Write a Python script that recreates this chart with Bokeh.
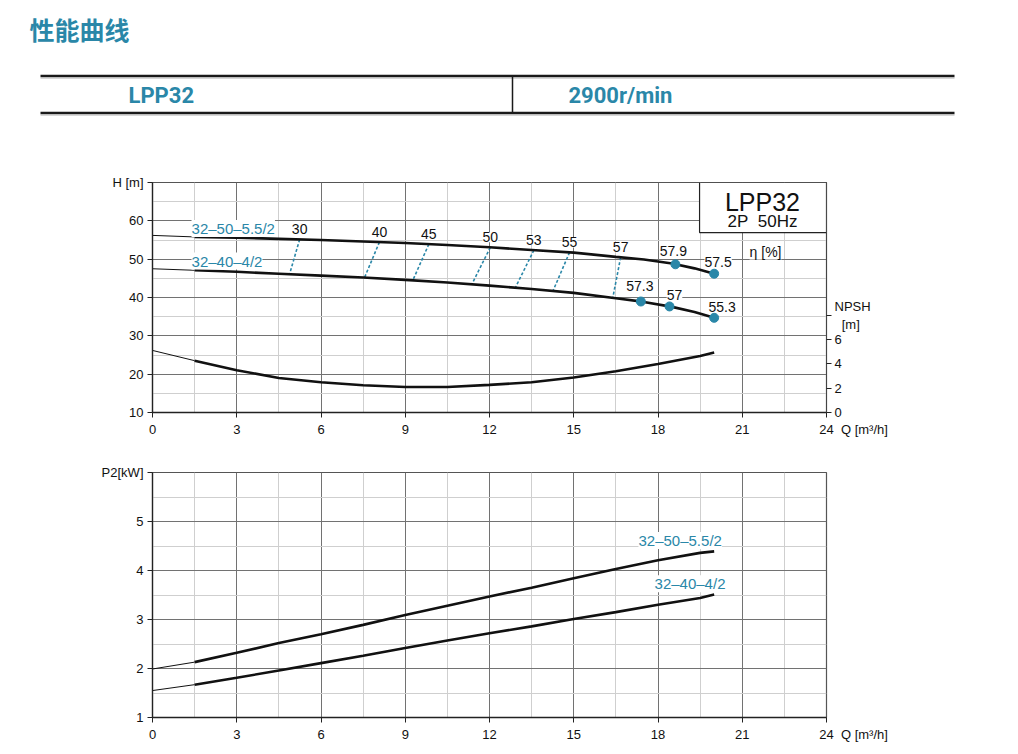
import numpy as np
from bokeh.plotting import figure
from bokeh.models import (Range1d, LinearAxis, FixedTicker, ColumnDataSource,
                          LabelSet, Label, BoxAnnotation)
from bokeh.layouts import column
from bokeh.embed import file_html
from bokeh.resources import INLINE
from bokeh.core.properties import value

# ---------------- data ----------------
title_text = "性能曲线"
model_text = "LPP32"
speed_text = "2900r/min"
box_title = "LPP32"
box_sub = "2P\u00a0\u00a050Hz"
series_names = ["32–50–5.5/2", "32–40–4/2"]
q_unit = "Q [m³/h]"
npsh_unit = "NPSH\n\u00a0\u00a0[m]"

q_h = [0, 1.5, 3, 4.5, 6, 7.5, 9, 10.5, 12, 13.5, 15, 16.5, 17.5, 18.5, 19.3, 20]
h_50 = [56.2, 55.8, 55.6, 55.3, 55.0, 54.6, 54.2, 53.7, 53.1, 52.4, 51.7, 50.6, 49.9, 48.85, 47.6, 46.2]
h_40 = [47.5, 47.1, 46.7, 46.2, 45.7, 45.2, 44.6, 43.9, 43.1, 42.2, 41.2, 39.8, 38.85, 37.55, 36.2, 34.7]

q_npsh = [0, 1.5, 3, 4.5, 6, 7.5, 9, 10.5, 12, 13.5, 15, 16.5, 18, 19.5, 20]
npsh = [5.1, 4.26, 3.47, 2.84, 2.48, 2.24, 2.1, 2.1, 2.27, 2.48, 2.87, 3.39, 3.99, 4.64, 4.94]

q_p2 = [0, 1.5, 3, 4.5, 6, 7.5, 9, 10.5, 12, 13.5, 15, 16.5, 18, 19.5, 20]
p2_50 = [1.99, 2.13, 2.32, 2.52, 2.70, 2.89, 3.09, 3.28, 3.47, 3.65, 3.84, 4.03, 4.21, 4.36, 4.39]
p2_40 = [1.55, 1.67, 1.81, 1.96, 2.11, 2.26, 2.42, 2.57, 2.72, 2.86, 3.01, 3.15, 3.30, 3.44, 3.51]

eff_labels = ["30", "40", "45", "50", "53", "55", "57"]
eff_q_top = [5.24, 8.08, 9.84, 12.03, 13.58, 14.85, 16.67]
eff_q_bot = [4.88, 7.55, 9.27, 11.37, 12.92, 14.26, 16.39]

dot_q_50 = [18.62, 20.0]
dot_eff_50 = ["57.9", "57.5"]
dot_q_40 = [17.39, 18.41, 20.0]
dot_eff_40 = ["57.3", "57", "55.3"]

q_ticks = [0, 3, 6, 9, 12, 15, 18, 21, 24]
q_minor = [1.5, 4.5, 7.5, 10.5, 13.5, 16.5, 19.5, 22.5]
h_ticks = [10, 20, 30, 40, 50, 60, 70]
h_minor = [15, 25, 35, 45, 55, 65]
npsh_ticks = [0, 2, 4, 6, 8]
p2_ticks = [1, 2, 3, 4, 5, 6]
p2_minor = [1.5, 2.5, 3.5, 4.5, 5.5]

# ---------------- style ----------------
TEAL = "#2a87a8"
FONT = "Liberation Sans"
MAJOR = "#727272"
MINOR = "#cfcfcf"
THIN, THICK = 1.0, 2.6
Q_START = 1.5  # curves are thin before this flow
W = 1010
BL, FW = 152, 674
BR = W - BL - FW
NB = "\u00a0"
# last x tick carries the axis unit to its right (padded so "24" stays centred on its tick)
q_last_label = NB * 15 + "24" + NB * 2 + q_unit


def style_axes(p, yticks, yminor, yover):
    p.xaxis.ticker = FixedTicker(ticks=q_ticks, minor_ticks=q_minor)
    p.yaxis.ticker = FixedTicker(ticks=yticks, minor_ticks=yminor)
    p.yaxis.major_label_overrides = yover
    p.xaxis.major_label_overrides = {24: q_last_label}
    p.xgrid.ticker = FixedTicker(ticks=q_ticks, minor_ticks=q_minor)
    p.ygrid.ticker = FixedTicker(ticks=yticks, minor_ticks=yminor)
    for g in (p.xgrid, p.ygrid):
        g.grid_line_color = MAJOR
        g.grid_line_width = 1
        g.minor_grid_line_color = MINOR
        g.minor_grid_line_width = 1
    for ax in (p.xaxis, p.yaxis):
        ax.axis_line_color = "#222222"
        ax.axis_line_width = 1.3
        ax.major_tick_line_color = "#222222"
        ax.major_tick_out = 5
        ax.major_tick_in = 0
        ax.minor_tick_line_color = None
        ax.major_label_text_font = FONT
        ax.major_label_text_font_size = "13px"
        ax.major_label_text_color = "#111111"
        ax.major_label_standoff = 4
    p.outline_line_color = "#555555"
    p.outline_line_width = 1.2


def split_curve(p, xs, ys, **kw):
    xs = np.asarray(xs, float)
    ys = np.asarray(ys, float)
    thin = xs <= Q_START
    thick = xs >= Q_START
    p.line(xs[thin], ys[thin], line_color="#111111", line_width=THIN, **kw)
    p.line(xs[thick], ys[thick], line_color="#111111", line_width=THICK, **kw)


# ---------------- header ----------------
HH = 157
hdr = figure(width=W, height=HH, x_range=Range1d(0, W), y_range=Range1d(HH, 0),
             output_backend="svg", toolbar_location=None,
             min_border=0, min_border_left=0, min_border_right=0,
             min_border_top=0, min_border_bottom=0)
try:
    hdr.frame_align = False
except Exception:
    pass
hdr.axis.visible = False
hdr.grid.visible = False
hdr.outline_line_color = None

hdr.add_layout(Label(x=29, y=28, text=title_text, text_font="Noto Sans CJK SC",
                     text_font_style="bold", text_font_size="25px", text_color=TEAL,
                     text_align="left", text_baseline="middle"))
hdr.line([40, 954], [75.5, 75.5], line_color="#1a1a1a", line_width=2.5)
hdr.line([40, 954], [77.5, 77.5], line_color="#b0b0b0", line_width=1)
hdr.line([40, 954], [112.5, 112.5], line_color="#1a1a1a", line_width=2.5)
hdr.line([40, 954], [114.5, 114.5], line_color="#b0b0b0", line_width=1)
hdr.line([512, 512], [76, 112], line_color="#1a1a1a", line_width=1.5)
hdr.add_layout(Label(x=128, y=95, text=model_text, text_font="Roboto",
                     text_font_style="bold", text_font_size="22px", text_color=TEAL,
                     text_align="left", text_baseline="middle"))
hdr.add_layout(Label(x=568, y=95, text=speed_text, text_font="Roboto",
                     text_font_style="bold", text_font_size="22px", text_color=TEAL,
                     text_align="left", text_baseline="middle"))

# ---------------- top: H / NPSH ----------------
p1 = figure(width=W, height=290, x_range=Range1d(0, 24), y_range=Range1d(10, 70),
            output_backend="svg", toolbar_location=None,
            min_border_left=BL, min_border_right=BR, min_border_top=25, min_border_bottom=35)
p1.extra_y_ranges = {"npsh": Range1d(0, 18.9)}
style_axes(p1, h_ticks, h_minor, {70: "H [m]"})

rax = LinearAxis(y_range_name="npsh", ticker=FixedTicker(ticks=npsh_ticks))
rax.major_label_overrides = {8: npsh_unit}
rax.axis_line_color = "#444444"
rax.major_tick_line_color = "#222222"
rax.major_tick_out = 5
rax.major_tick_in = 0
rax.minor_tick_line_color = None
rax.major_label_text_font = FONT
rax.major_label_text_font_size = "13px"
rax.major_label_text_color = "#111111"
rax.major_label_standoff = 3
p1.add_layout(rax, "right")

# efficiency iso-lines
h_top = np.interp(eff_q_top, q_h, h_50)
h_bot = np.interp(eff_q_bot, q_h, h_40)
p1.segment(x0=eff_q_top, y0=h_top, x1=eff_q_bot, y1=h_bot,
           line_color=TEAL, line_width=1.6, line_dash="3 2")

split_curve(p1, q_h, h_50)
split_curve(p1, q_h, h_40)
split_curve(p1, q_npsh, npsh, y_range_name="npsh")

d50_h = np.interp(dot_q_50, q_h, h_50)
d40_h = np.interp(dot_q_40, q_h, h_40)
p1.scatter(dot_q_50 + dot_q_40, list(d50_h) + list(d40_h), size=9,
           fill_color=TEAL, line_color=TEAL)

set_font = dict(text_font=value(FONT), text_font_size="14px", text_color="#111111",
                text_align="center", text_baseline="middle",
                background_fill_color="white", background_fill_alpha=1.0)
one_font = dict(set_font, text_font=FONT)

eff_src = ColumnDataSource(dict(x=eff_q_top, y=h_top, t=eff_labels))
p1.add_layout(LabelSet(x="x", y="y", text="t", source=eff_src, y_offset=10, **set_font))

dot_dx = [-2, 4, -1, 5, 8]
dot_dy = [13, 12, 16, 11, 11]
dot_src = ColumnDataSource(dict(x=dot_q_50 + dot_q_40, y=list(d50_h) + list(d40_h),
                                t=dot_eff_50 + dot_eff_40, dx=dot_dx, dy=dot_dy))
p1.add_layout(LabelSet(x="x", y="y", text="t", source=dot_src,
                       x_offset="dx", y_offset="dy", **set_font))

p1.add_layout(Label(x=21.83, y=52.0, text="η [%]", **one_font))

ser_font = dict(text_font=FONT, text_font_size="15px", text_color=TEAL,
                text_align="left", text_baseline="middle",
                background_fill_color="white", background_fill_alpha=1.0)
p1.add_layout(Label(x=1.39, y=58.0, text=series_names[0], **ser_font))
p1.add_layout(Label(x=1.39, y=49.5, text=series_names[1], **ser_font))

p1.add_layout(BoxAnnotation(left=19.48, right=24, bottom=56.95, top=70,
                            fill_color="white", fill_alpha=1.0,
                            line_color="#222222", line_width=1.2, line_alpha=1.0))
p1.add_layout(Label(x=21.72, y=65.0, text=box_title, text_font=FONT,
                    text_font_size="25px", text_color="#111111",
                    text_align="center", text_baseline="middle"))
p1.add_layout(Label(x=21.72, y=59.7, text=box_sub, text_font=FONT,
                    text_font_size="17px", text_color="#111111",
                    text_align="center", text_baseline="middle"))

# ---------------- bottom: P2 ----------------
p2 = figure(width=W, height=298, x_range=Range1d(0, 24), y_range=Range1d(1, 6),
            output_backend="svg", toolbar_location=None,
            min_border_left=BL, min_border_right=BR, min_border_top=25, min_border_bottom=28)
style_axes(p2, p2_ticks, p2_minor, {6: "P2[kW]"})

split_curve(p2, q_p2, p2_50)
split_curve(p2, q_p2, p2_40)

ser_c = dict(ser_font, text_align="center")
p2.add_layout(Label(x=18.79, y=4.61, text=series_names[0], **ser_c))
p2.add_layout(Label(x=19.14, y=3.73, text=series_names[1], **ser_c))

layout = column(hdr, column(p1, p2, spacing=0), spacing=0)
open("out.html", "w").write(file_html(layout, INLINE))
